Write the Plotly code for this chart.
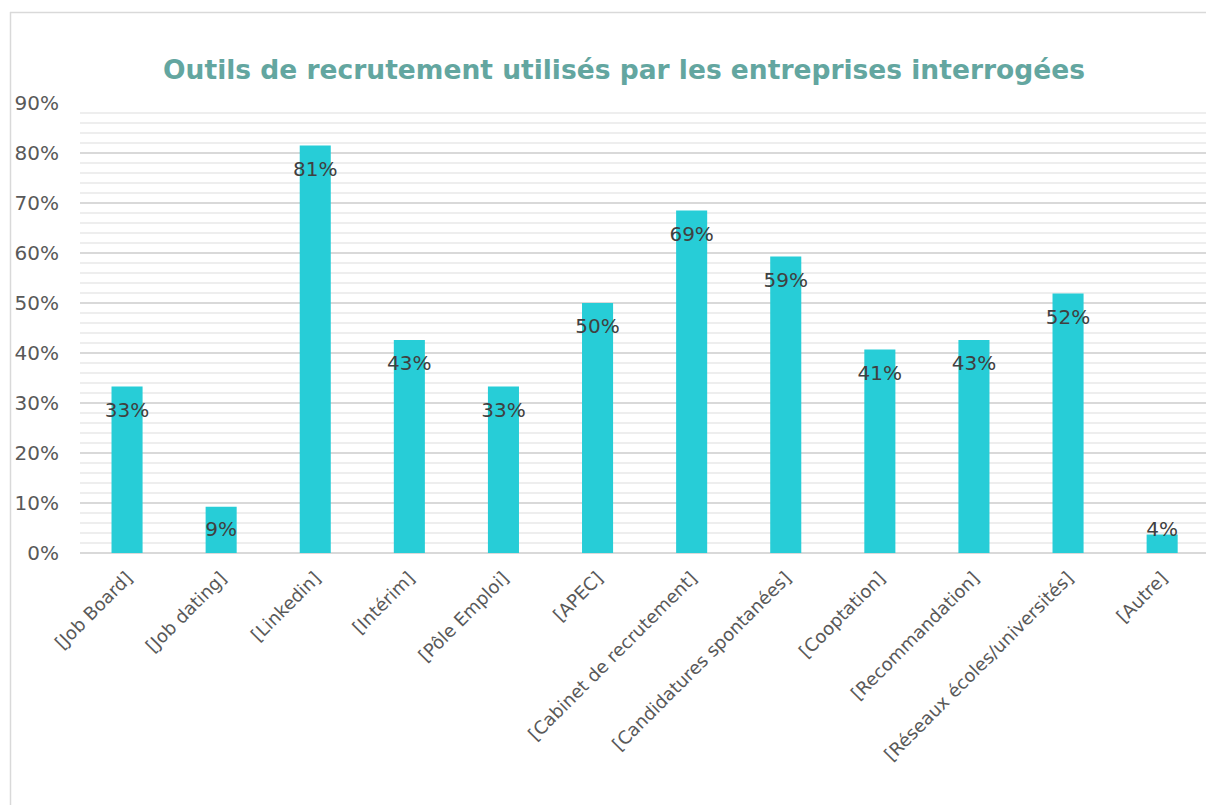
import plotly.graph_objects as go

categories = ["[Job Board]", "[Job dating]", "[Linkedin]", "[Intérim]", "[Pôle Emploi]", "[APEC]",
              "[Cabinet de recrutement]", "[Candidatures spontanées]", "[Cooptation]",
              "[Recommandation]", "[Réseaux écoles/universités]", "[Autre]"]
values = [33.3, 9.26, 81.5, 42.6, 33.3, 50.0, 68.5, 59.3, 40.7, 42.6, 51.9, 3.7]
labels = ["33%", "9%", "81%", "43%", "33%", "50%", "69%", "59%", "41%", "43%", "52%", "4%"]
title_text = "Outils de recrutement utilisés par les entreprises interrogées"

W, H = 1206, 805
ML, MR, MT, MB = 80, 0, 103, 252
pw, ph = W - ML - MR, H - MT - MB

# label positions: inside end, clamped near the axis for short bars
label_y = [max(v - 5.0, 4.4) for v in values]

fig = go.Figure()
fig.add_trace(go.Bar(x=categories, y=values, width=0.33, marker=dict(color="#27CDD7", line=dict(width=0)),
                     hoverinfo="skip"))
fig.add_trace(go.Scatter(x=categories, y=label_y, text=labels, mode="text", textposition="middle center",
                         textfont=dict(family="DejaVu Sans", size=20, color="#404040"), hoverinfo="skip"))

def px_x(p):
    return (p - ML) / pw

def px_y(p):
    return (H - MB - p) / ph

fig.update_layout(
    width=W, height=H,
    margin=dict(l=ML, r=MR, t=MT, b=MB),
    paper_bgcolor="white", plot_bgcolor="white",
    showlegend=False,
    title=dict(text="<b>" + title_text + "</b>", x=624 / W, xanchor="center", xref="container",
               y=1 - 70 / H, yanchor="middle", yref="container",
               font=dict(family="DejaVu Sans", size=26.5, color="#63A6A0")),
    xaxis=dict(range=[-0.5, 11.466], showgrid=False, zeroline=False, showline=False,
               tickangle=-45, tickfont=dict(family="DejaVu Sans", size=18, color="#595959"),
               ticklabelstandoff=10),
    yaxis=dict(range=[0, 90], dtick=10, ticksuffix="%", showline=False, zeroline=True,
               zerolinecolor="#D9D9D9", zerolinewidth=2,
               gridcolor="#D9D9D9", gridwidth=2,
               minor=dict(dtick=2, showgrid=True, gridcolor="#EEEEEE", gridwidth=2),
               tickfont=dict(family="DejaVu Sans", size=20, color="#595959"),
               ticklabelstandoff=20),
    shapes=[
        dict(type="line", xref="paper", yref="paper", x0=px_x(10), x1=px_x(W + 5),
             y0=px_y(12.5), y1=px_y(12.5), line=dict(color="#D9D9D9", width=1.5)),
        dict(type="line", xref="paper", yref="paper", x0=px_x(10.5), x1=px_x(10.5),
             y0=px_y(12), y1=px_y(H + 5), line=dict(color="#D9D9D9", width=1.5)),
    ],
)

fig.write_html("out.html", config={"displayModeBar": False},
               post_script="document.body.style.margin='0';document.body.style.overflow='hidden';")
